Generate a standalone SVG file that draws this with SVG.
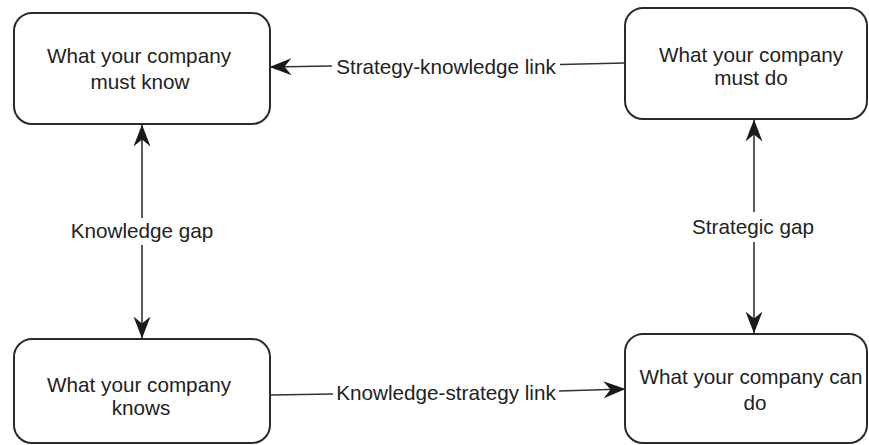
<svg xmlns="http://www.w3.org/2000/svg" width="869" height="445" viewBox="0 0 869 445">
  <defs>
    <marker id="arr" viewBox="0 0 22 18" refX="21.5" refY="9" markerWidth="22" markerHeight="18" markerUnits="userSpaceOnUse" orient="auto">
      <path d="M22,9 L0,0.5 L7,9 L0,17.5 Z" fill="#1a1a1a"/>
    </marker>
    <style>
      .box { fill: #ffffff; stroke: #2a2a2a; stroke-width: 2; }
      .t { font-family: "Liberation Sans", Arial, sans-serif; font-size: 20.7px; fill: #222222; text-anchor: middle; }
      .ln { fill: none; stroke: #333333; stroke-width: 1.6; }
      .la { marker-end: url(#arr); }
    </style>
  </defs>
  <rect width="869" height="445" fill="#ffffff"/>

  <g id="connectors">
    <!-- Strategy-knowledge link -->
    <path class="ln" d="M625,63 L560,64.5"/>
    <path class="ln la" d="M332,66 L270,67"/>
    <text class="t" x="446" y="74">Strategy-knowledge link</text>
    <!-- Knowledge-strategy link -->
    <path class="ln" d="M271,395 L333,394"/>
    <path class="ln la" d="M559,391 L625,389"/>
    <text class="t" x="446" y="400">Knowledge-strategy link</text>
    <!-- Knowledge gap -->
    <path class="ln la" d="M142,218 L142,125"/>
    <path class="ln la" d="M142,245 L142,338"/>
    <text class="t" x="142" y="238">Knowledge gap</text>
    <!-- Strategic gap -->
    <path class="ln la" d="M754,212 L754,120"/>
    <path class="ln la" d="M754,242 L754,333"/>
    <text class="t" x="753" y="234">Strategic gap</text>
  </g>

  <g id="must-know">
    <rect class="box" x="14" y="13" width="256" height="111" rx="18" ry="18"/>
    <text class="t" x="139" y="63">What your company</text>
    <text class="t" x="140" y="89">must know</text>
  </g>

  <g id="must-do">
    <rect class="box" x="625" y="8" width="242" height="111" rx="18" ry="18"/>
    <text class="t" x="751" y="62">What your company</text>
    <text class="t" x="751" y="85">must do</text>
  </g>

  <g id="knows">
    <rect class="box" x="14" y="339" width="256" height="104" rx="18" ry="18"/>
    <text class="t" x="139" y="392">What your company</text>
    <text class="t" x="141" y="415">knows</text>
  </g>

  <g id="can-do">
    <rect class="box" x="625" y="334" width="242" height="109" rx="18" ry="18"/>
    <text class="t" x="751" y="384">What your company can</text>
    <text class="t" x="755" y="410">do</text>
  </g>
</svg>
